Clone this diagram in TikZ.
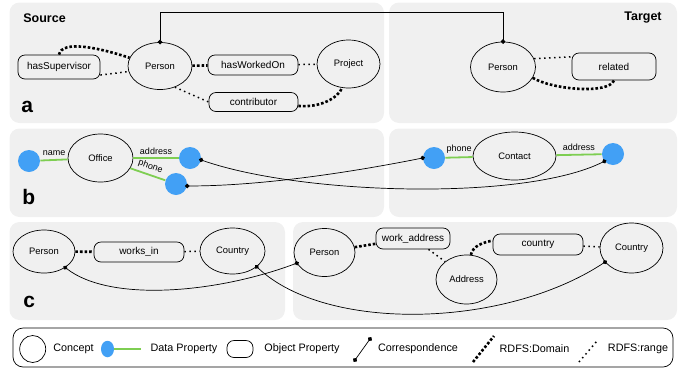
\documentclass[tikz,border=0pt]{standalone}
\usepackage{fontspec}
\setmainfont{Liberation Sans}
\usetikzlibrary{shapes.geometric,arrows.meta}

\definecolor{panelgray}{RGB}{240,240,240}
\definecolor{dpblue}{RGB}{66,160,245}
\definecolor{dpgreen}{RGB}{126,206,82}

\begin{document}
\begin{tikzpicture}
    [x=1pt,y=-1pt,line width=0.7pt,
     concept/.style={ellipse,draw,inner sep=0pt,font=\fontsize{9.4}{11}\selectfont},
     objprop/.style={draw,rounded corners=7pt,inner sep=0pt,font=\fontsize{10}{12}\selectfont},
     dataprop/.style={circle,fill=dpblue,minimum size=22pt,inner sep=0pt},
     datalink/.style={draw=dpgreen,line width=1.8pt},
     dplabel/.style={font=\fontsize{9}{11}\selectfont,inner sep=3pt},
     rdfsdom/.style={line width=2.6pt,dash pattern=on 2.6pt off 2pt},
     rdfsrng/.style={line width=1.5pt,dash pattern=on 1.5pt off 3.5pt},
     corr/.style={line width=0.7pt,{Circle[length=4.5pt]}-{Circle[length=4.5pt]},shorten <=-2.2pt,shorten >=-2.2pt},
     panel/.style={fill=panelgray,rounded corners=10pt},
     tag/.style={font=\bfseries\fontsize{21}{24}\selectfont,inner sep=0pt,anchor=base west},
     side/.style={font=\bfseries\fontsize{12.5}{14}\selectfont,inner sep=0pt},
     legtext/.style={font=\fontsize{10.8}{13}\selectfont,inner sep=0pt}]
    \useasboundingbox (0,0) rectangle (683,373);

    % panels
    \path[panel] (9.5,2.5) rectangle (384,123);
    \path[panel] (389,2.5) rectangle (677,123);
    \path[panel] (9.5,128.5) rectangle (384,217);
    \path[panel] (389,128.5) rectangle (677,217);
    \path[panel] (9.5,222) rectangle (285,320);
    \path[panel] (293,222) rectangle (677,320);
    \draw[rounded corners=10pt,fill=white] (13,328) rectangle (673,367);

    % a
    \node[side,anchor=west] (lsrc) at (23,18) {Source};
    \node[side,anchor=east] (ltgt) at (662,18) {Target};
    \node[tag] (taga) at (21,112) {a};
    \node[objprop,minimum width=82pt,minimum height=24pt] (psup) at (59,67) {hasSupervisor};
    \node[concept,minimum width=64pt,minimum height=47pt] (psrc) at (160,66) {Person};
    \node[objprop,minimum width=90pt,minimum height=20pt] (pwork) at (253,65) {hasWorkedOn};
    \node[concept,minimum width=63pt,minimum height=48pt] (pproj) at (348.5,64) {Project};
    \node[objprop,minimum width=89pt,minimum height=19pt] (pcontr) at (253.5,102) {contributor};
    \node[concept,minimum width=65pt,minimum height=50pt] (ptgt) at (503,67) {Person};
    \node[objprop,minimum width=84pt,minimum height=27pt] (prel) at (614,66.5) {related};

    \draw[rdfsdom] (psup.north) .. controls +(3,-15) and +(-30,-10) .. (psrc.165);
    \path (psup.-11) edge[rdfsrng] (psrc.190);
    \path (psrc) edge[rdfsdom] (pwork);
    \path (pwork) edge[rdfsrng] (pproj);
    \path (psrc.-55) edge[rdfsrng] (pcontr.west);
    \draw[rdfsdom] (pcontr.-5) .. controls +(22,2) and +(-4,10) .. (pproj.-105);
    \path (ptgt.15) edge[rdfsrng] (prel.167);
    \draw[rdfsdom] (ptgt.-20) .. controls +(20,12) and +(-5,14) .. (prel.south);
    \draw[corr] (psrc.north) -- ++(0,-30) -| (ptgt.north);

    % b
    \node[tag] (tagb) at (22,204) {b};
    \node[dataprop] (bname) at (29,161) {};
    \node[concept,minimum width=65pt,minimum height=48pt] (office) at (100.5,158) {Office};
    \node[dataprop] (baddr) at (190,158) {};
    \node[dataprop] (bphone) at (176,184) {};
    \node[dataprop] (cphone) at (434,158) {};
    \node[concept,minimum width=83pt,minimum height=48pt] (contact) at (514.5,156) {Contact};
    \node[dataprop] (caddrdp) at (613,154) {};

    \draw[datalink] (bname) -- node[dplabel,above] {name} (office);
    \draw[datalink] (office) -- node[dplabel,above] {address} (baddr);
    \draw[datalink] (office) -- node[dplabel,above,sloped] {phone} (bphone);
    \draw[datalink] (cphone) -- node[dplabel,above] {phone} (contact);
    \draw[datalink] (contact) -- node[dplabel,above] {address} (caddrdp);
    \draw[corr] (baddr.-10) .. controls +(100,35) and +(-80,40) .. (caddrdp.-140);
    \draw[corr] (bphone.-10) .. controls +(80,0) and +(-60,12) .. (cphone.west);

    % c
    \node[tag] (tagc) at (23,307) {c};
    \node[concept,minimum width=62pt,minimum height=43pt] (cper1) at (44,251.5) {Person};
    \node[objprop,minimum width=90pt,minimum height=20pt] (cworks) at (139,252) {works\_in};
    \node[concept,minimum width=65pt,minimum height=46pt] (ccoun1) at (232.5,251) {Country};
    \node[concept,minimum width=61pt,minimum height=48pt] (cper2) at (324.5,252.5) {Person};
    \node[objprop,minimum width=74pt,minimum height=21pt] (cwork) at (413,238.5) {work\_address};
    \node[concept,minimum width=61pt,minimum height=49pt] (caddr) at (466.5,279.5) {Address};
    \node[objprop,minimum width=90pt,minimum height=21pt] (ccty) at (538,244.5) {country};
    \node[concept,minimum width=63pt,minimum height=50pt] (ccoun2) at (631.5,248) {Country};

    \path (cper1) edge[rdfsdom] (cworks);
    \path (cworks) edge[rdfsrng] (ccoun1);
    \path (cper2.10) edge[rdfsdom] (cwork.-172);
    \path (cwork.-35) edge[rdfsrng] (caddr.140);
    \draw[rdfsdom] (caddr.80) .. controls +(2,-9) and +(-10,2) .. (ccty.175);
    \path (ccty) edge[rdfsrng] (ccoun2);
    \draw[corr] (cper1.-37) .. controls +(45,35) and +(-80,30) .. (cper2.-159);
    \draw[corr] (ccoun1.-33) .. controls +(70,66) and +(-100,66) .. (ccoun2.-152);

    % legend
    \node[concept,minimum width=26pt,minimum height=27pt] (lcon) at (32.7,349) {};
    \node[legtext] (lconT) at (73.5,349) {Concept};
    \node[ellipse,fill=dpblue,minimum width=13pt,minimum height=16.5pt,inner sep=0pt] (ldp) at (107.5,349) {};
    \coordinate (ldpE) at (140.6,349);
    \draw[datalink] (ldp) -- (ldpE);
    \node[legtext] (ldpT) at (184,349) {Data Property};
    \node[objprop,minimum width=26pt,minimum height=17pt] (lop) at (240,349) {};
    \node[legtext] (lopT) at (302,349) {Object Property};
    \coordinate (lcorA) at (355,360);
    \coordinate (lcorB) at (370,339);
    \draw[corr] (lcorA) -- (lcorB);
    \node[legtext] (lcorT) at (418,349) {Correspondence};
    \coordinate (ldomA) at (473,362);
    \coordinate (ldomB) at (494,336);
    \draw[rdfsdom] (ldomA) -- (ldomB);
    \node[legtext] (ldomT) at (534.5,349) {RDFS:Domain};
    \coordinate (lrngA) at (579,362);
    \coordinate (lrngB) at (597,341);
    \draw[rdfsrng] (lrngA) -- (lrngB);
    \node[legtext] (lrngT) at (638,349) {RDFS:range};

\end{tikzpicture}
\end{document}
